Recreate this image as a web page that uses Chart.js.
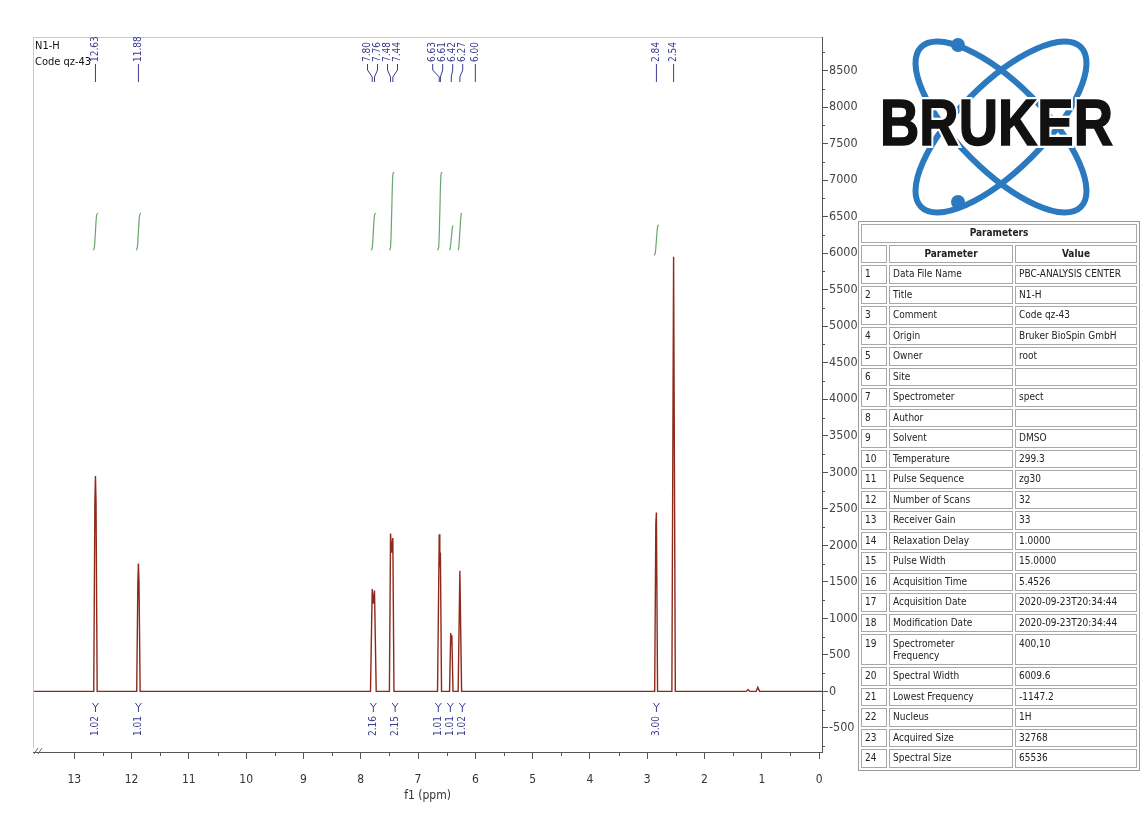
<!DOCTYPE html>
<html>
<head>
<meta charset="utf-8">
<title>N1-H spectrum</title>
<script src="https://cdn.jsdelivr.net/npm/chart.js@4.4.1/dist/chart.umd.min.js"></script>
<style>
  body { margin: 0; background: #fff; font-family: 'DejaVu Sans', sans-serif; }
  #wrap { position: relative; width: 1145px; height: 818px; overflow: hidden; }
  #nmr { position: absolute; left: 0; top: 0; }
  .note { position: absolute; left: 35px; font-size: 11px; color: #111; font-family: 'DejaVu Sans Condensed', 'DejaVu Sans', sans-serif; }
  #logo { position: absolute; left: 860px; top: 28px; }
  #params {
    position: absolute; left: 858px; top: 221px; width: 282px;
    border: 1px solid #9a9a9a; border-spacing: 2px; border-collapse: separate;
    table-layout: fixed; background: #fff;
    font-family: 'DejaVu Sans Condensed', 'DejaVu Sans', sans-serif; font-size: 10px; color: #222;
  }
  #params td, #params th {
    box-sizing: border-box; height: 18.5px; border: 1px solid #a8a8a8;
    padding: 0 3px; line-height: 12px; white-space: nowrap; overflow: hidden;
  }
  #params th { font-weight: bold; text-align: center; }
  #params tr.tall td { height: 31px; vertical-align: top; padding-top: 3px; white-space: normal; }
</style>
</head>
<body>
<div id="wrap">
  <canvas id="nmr" width="1145" height="818"></canvas>
  <div class="note" style="top:39px">N1-H</div>
  <div class="note" style="top:55px">Code qz-43</div>

  <svg id="logo" width="280" height="195" viewBox="0 0 280 195">
    <g fill="none" stroke="#2b79bf" stroke-width="6">
      <ellipse cx="141" cy="99" rx="113" ry="43" transform="rotate(45 141 99)"/>
      <ellipse cx="141" cy="99" rx="113" ry="43" transform="rotate(-45 141 99)"/>
    </g>
    <circle cx="98" cy="17" r="7" fill="#2b79bf"/>
    <circle cx="98" cy="174" r="7" fill="#2b79bf"/>
    <text x="20" y="117" textLength="233" lengthAdjust="spacingAndGlyphs"
          font-family="Liberation Sans, Arial, sans-serif" font-weight="bold" font-size="64"
          fill="#fff" stroke="#fff" stroke-width="6">BRUKER</text>
    <text x="20" y="117" textLength="233" lengthAdjust="spacingAndGlyphs"
          font-family="Liberation Sans, Arial, sans-serif" font-weight="bold" font-size="64"
          fill="#111" stroke="#111" stroke-width="1.5">BRUKER</text>
  </svg>

  <table id="params"></table>
</div>

<script>
// ---- spectrum (ppm / intensity) ----
const spectrumPpm = [13.72, 12.66, 12.64, 12.63, 12.62, 12.60, 11.91, 11.89, 11.88, 11.87, 11.85,
  7.83, 7.80, 7.78, 7.76, 7.73, 7.50, 7.48, 7.46, 7.44, 7.42, 6.66, 6.63, 6.62, 6.61, 6.59,
  6.45, 6.43, 6.42, 6.41, 6.39, 6.30, 6.27, 6.24, 2.87, 2.85, 2.84, 2.82, 2.57, 2.54, 2.51,
  1.27, 1.24, 1.21, 1.10, 1.07, 1.04, -0.05];
const spectrumInt = [0, 0, 2600, 2950, 2600, 0, 0, 1500, 1750, 1500, 0,
  0, 1400, 1200, 1380, 0, 0, 2160, 1900, 2100, 0, 0, 2150, 1700, 1900, 0,
  0, 800, 650, 770, 0, 0, 1650, 0, 0, 2300, 2450, 0, 0, 5950, 0,
  0, 25, 0, 0, 55, 0, 0];

// axis ticks (major ticks carry labels, minor ticks sit halfway)
const xTickLabels = [0, 1, 2, 3, 4, 5, 6, 7, 8, 9, 10, 11, 12, 13];
const yTickLabels = [-500, 0, 500, 1000, 1500, 2000, 2500, 3000, 3500, 4000,
  4500, 5000, 5500, 6000, 6500, 7000, 7500, 8000, 8500];

// peak picking labels
const peakPpm = [12.63, 11.88, 7.80, 7.76, 7.48, 7.44, 6.63, 6.61, 6.42, 6.27, 6.00, 2.84, 2.54];
const peakLabels = ['12.63', '11.88', '7.80', '7.76', '7.48', '7.44', '6.63', '6.61', '6.42', '6.27', '6.00', '2.84', '2.54'];

// integral curves (ppm / curve height in intensity units)
const integralPpm = [
  [12.67, 12.65, 12.63, 12.61, 12.59],
  [11.92, 11.90, 11.88, 11.86, 11.84],
  [7.82, 7.80, 7.78, 7.76, 7.74],
  [7.50, 7.48, 7.46, 7.44, 7.42],
  [6.66, 6.64, 6.62, 6.60, 6.58],
  [6.45, 6.44, 6.42, 6.40, 6.39],
  [6.30, 6.29, 6.27, 6.25, 6.24],
  [2.88, 2.86, 2.84, 2.82, 2.80]
];
const integralCurve = [
  [6040, 6070, 6300, 6520, 6550],
  [6040, 6070, 6300, 6520, 6550],
  [6040, 6070, 6300, 6520, 6550],
  [6040, 6080, 6550, 7080, 7110],
  [6040, 6080, 6550, 7080, 7110],
  [6040, 6060, 6200, 6360, 6380],
  [6040, 6070, 6300, 6520, 6550],
  [5970, 6000, 6180, 6360, 6390]
];
const integralLabelPpm = [12.63, 11.88, 7.78, 7.40, 6.62, 6.42, 6.27, 2.84];
const integralValues = ['1.02', '1.01', '2.16', '2.15', '1.01', '1.01', '1.02', '3.00'];

// parameters table
const paramNames = ['Data File Name', 'Title', 'Comment', 'Origin', 'Owner', 'Site', 'Spectrometer',
  'Author', 'Solvent', 'Temperature', 'Pulse Sequence', 'Number of Scans', 'Receiver Gain',
  'Relaxation Delay', 'Pulse Width', 'Acquisition Time', 'Acquisition Date', 'Modification Date',
  'Spectrometer Frequency', 'Spectral Width', 'Lowest Frequency', 'Nucleus', 'Acquired Size', 'Spectral Size'];
const paramValues = ['PBC-ANALYSIS CENTER', 'N1-H', 'Code qz-43', 'Bruker BioSpin GmbH', 'root', '', 'spect',
  '', 'DMSO', '299.3', 'zg30', '32', '33', '1.0000', '15.0000', '5.4526', '2020-09-23T20:34:44',
  '2020-09-23T20:34:44', '400,10', '6009.6', '-1147.2', '1H', '32768', '65536'];

// ---- table ----
const table = document.getElementById('params');
let html = '<colgroup><col style="width:26px"><col style="width:124px"><col></colgroup>';
html += '<tr><th colspan="3">Parameters</th></tr>';
html += '<tr><th></th><th>Parameter</th><th>Value</th></tr>';
paramNames.forEach((name, i) => {
  const tall = name === 'Spectrometer Frequency';
  html += `<tr${tall ? ' class="tall"' : ''}><td>${i + 1}</td><td>${tall ? 'Spectrometer<br>Frequency' : name}</td><td>${paramValues[i]}</td></tr>`;
});
table.innerHTML = html;

// ---- ticks: major values plus a minor one halfway to the next ----
function withMinor(major, extraBelow) {
  const step = major[1] - major[0];
  const out = [];
  if (extraBelow) out.push({ value: major[0] - step / 2, major: false });
  major.forEach((v, i) => {
    out.push({ value: v, major: true });
    if (i < major.length - 1 || extraBelow) out.push({ value: v + step / 2, major: false });
  });
  return out;
}
const isMajorTick = c => c.tick && c.tick.major;

// spread crowded labels apart (pixels must be ascending)
function spread(pos, gap) {
  let groups = pos.map((p, i) => ({ idx: [i], c: p }));
  let merged = true;
  while (merged) {
    merged = false;
    for (let k = 0; k < groups.length - 1; k++) {
      const g1 = groups[k], g2 = groups[k + 1];
      const end1 = g1.c + (g1.idx.length - 1) * gap / 2;
      const start2 = g2.c - (g2.idx.length - 1) * gap / 2;
      if (start2 - end1 < gap) {
        const idx = g1.idx.concat(g2.idx);
        const c = idx.reduce((s, i) => s + pos[i], 0) / idx.length;
        groups.splice(k, 2, { idx, c });
        merged = true;
        break;
      }
    }
  }
  const out = [];
  groups.forEach(g => g.idx.forEach((i, j) => { out[i] = g.c + (j - (g.idx.length - 1) / 2) * gap; }));
  return out;
}

const annotations = {
  id: 'annotations',
  afterDraw(chart) {
    const { ctx, chartArea: a, scales: { x, y } } = chart;
    ctx.save();

    // frame on top and left
    ctx.strokeStyle = '#c9c9c9';
    ctx.lineWidth = 1;
    ctx.beginPath();
    ctx.moveTo(a.left + 0.5, a.bottom - 4);
    ctx.lineTo(a.left + 0.5, a.top + 0.5);
    ctx.lineTo(a.right, a.top + 0.5);
    ctx.stroke();

    // axis break marks
    ctx.strokeStyle = '#666';
    ctx.beginPath();
    ctx.moveTo(a.left + 1, a.bottom + 2); ctx.lineTo(a.left + 5, a.bottom - 4);
    ctx.moveTo(a.left + 5, a.bottom + 2); ctx.lineTo(a.left + 9, a.bottom - 4);
    ctx.stroke();

    // minor ticks, shorter than the major ones
    ctx.strokeStyle = '#555';
    ctx.beginPath();
    x.ticks.forEach(t => {
      if (t.major) return;
      const px = Math.round(x.getPixelForValue(t.value)) + 0.5;
      ctx.moveTo(px, a.bottom); ctx.lineTo(px, a.bottom + 4);
    });
    y.ticks.forEach(t => {
      if (t.major) return;
      const py = Math.round(y.getPixelForValue(t.value)) + 0.5;
      ctx.moveTo(a.right, py); ctx.lineTo(a.right + 3, py);
    });
    ctx.stroke();

    // peak labels at the top
    ctx.strokeStyle = '#3b3b8f';
    ctx.fillStyle = '#3b3b8f';
    ctx.font = '10px "DejaVu Sans Condensed", "DejaVu Sans", sans-serif';
    const pp = peakPpm.map(p => x.getPixelForValue(p));
    const lp = spread(pp, 10);
    pp.forEach((p, i) => {
      ctx.beginPath();
      ctx.moveTo(lp[i], 64); ctx.lineTo(lp[i], 70);
      ctx.lineTo(p, 77); ctx.lineTo(p, 82);
      ctx.stroke();
      ctx.save();
      ctx.translate(lp[i], 62);
      ctx.rotate(-Math.PI / 2);
      ctx.textAlign = 'left';
      ctx.textBaseline = 'middle';
      ctx.fillText(peakLabels[i], 0, 0);
      ctx.restore();
    });

    // integral values at the bottom
    const ip = spread(integralLabelPpm.map(p => x.getPixelForValue(p)), 12);
    ip.forEach((p, i) => {
      ctx.beginPath();
      ctx.moveTo(p - 3, 703); ctx.lineTo(p, 707); ctx.lineTo(p + 3, 703);
      ctx.moveTo(p, 707); ctx.lineTo(p, 712);
      ctx.stroke();
      ctx.save();
      ctx.translate(p, 736);
      ctx.rotate(-Math.PI / 2);
      ctx.textAlign = 'left';
      ctx.textBaseline = 'middle';
      ctx.fillText(integralValues[i], 0, 0);
      ctx.restore();
    });

    ctx.restore();
  }
};

const datasets = [{
  label: 'spectrum',
  data: spectrumPpm.map((p, i) => ({ x: p, y: spectrumInt[i] })),
  borderColor: '#8e2a1c',
  borderWidth: 1.4,
  pointRadius: 0,
  showLine: true,
  tension: 0
}];
integralPpm.forEach((ppm, k) => {
  datasets.push({
    label: 'integral ' + integralValues[k],
    data: ppm.map((p, i) => ({ x: p, y: integralCurve[k][i] })),
    borderColor: '#6aa66a',
    borderWidth: 1.2,
    pointRadius: 0,
    showLine: true,
    tension: 0.35
  });
});

const tickFont = { family: '"DejaVu Sans Condensed", "DejaVu Sans", sans-serif', size: 12 };

new Chart(document.getElementById('nmr'), {
  type: 'scatter',
  data: { datasets },
  plugins: [annotations],
  options: {
    responsive: false,
    animation: false,
    devicePixelRatio: 1,
    layout: { padding: { left: 33, top: 37, right: 283, bottom: 11 } },
    plugins: { legend: { display: false }, tooltip: { enabled: false } },
    scales: {
      x: {
        type: 'linear',
        reverse: true,
        min: -0.05,
        max: 13.72,
        afterBuildTicks: s => { s.ticks = withMinor(xTickLabels, false); },
        afterFit: s => { s.height = 55; },
        border: { color: '#555', width: 1 },
        grid: {
          drawOnChartArea: false,
          tickLength: 7,
          tickColor: c => isMajorTick(c) ? '#555' : 'rgba(0,0,0,0)'
        },
        ticks: {
          autoSkip: false,
          maxRotation: 0,
          padding: 14,
          color: '#333',
          font: tickFont,
          callback: (v, i, ticks) => ticks[i].major ? String(v) : ''
        },
        title: { display: true, text: 'f1 (ppm)', color: '#333', font: tickFont }
      },
      y: {
        type: 'linear',
        position: 'right',
        min: -830,
        max: 8960,
        afterBuildTicks: s => { s.ticks = withMinor(yTickLabels, true); },
        afterFit: s => { s.width = 40; },
        border: { color: '#555', width: 1 },
        grid: {
          drawOnChartArea: false,
          tickLength: 6,
          tickColor: c => isMajorTick(c) ? '#555' : 'rgba(0,0,0,0)'
        },
        ticks: {
          autoSkip: false,
          padding: 1,
          color: '#444',
          font: { family: tickFont.family, size: 12.5 },
          callback: (v, i, ticks) => ticks[i].major ? String(v) : ''
        }
      }
    }
  }
});
</script>
</body>
</html>
